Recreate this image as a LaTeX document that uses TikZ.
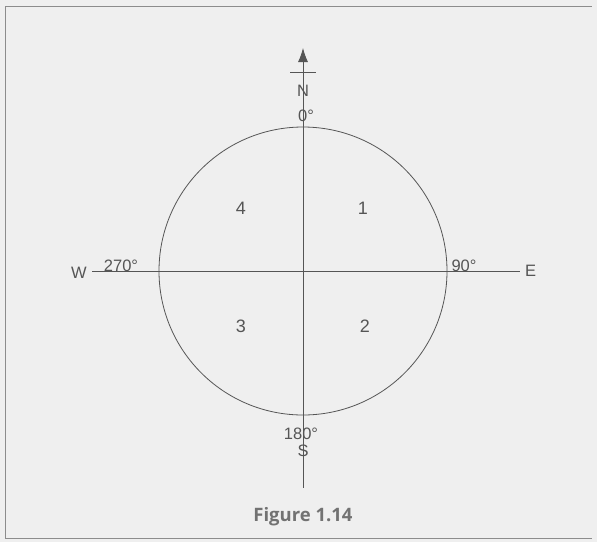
\documentclass[tikz,border=0pt]{standalone}
\usepackage{fontspec}
\setmainfont{Liberation Sans}
\newfontfamily\captionfont{Open Sans}
\usetikzlibrary{arrows.meta,positioning,calc}
\definecolor{pagegray}{HTML}{EFEFEF}
\definecolor{inkgray}{HTML}{555555}
\definecolor{captiongray}{HTML}{727272}
\tikzset{
  compassline/.style={
    line width=0.8pt,
    draw=inkgray
  },
  compassarrow/.style={
    {Latex[length=14pt,width=10pt]}-,
    line width=0.8pt,
    draw=inkgray
  },
  compasslabel/.style={
    text=inkgray,
    inner sep=1pt,
    font=\fontsize{16.5}{16.5}\selectfont
  },
  quadlabel/.style={
    text=inkgray,
    inner sep=1pt,
    font=\fontsize{18}{18}\selectfont
  },
  framerule/.style={
    line width=1pt,
    draw=black!45
  }
}

\begin{document}
\begin{tikzpicture}[x=1pt,y=-1pt]
  \fill[pagegray] (0,0) rectangle (597,542);
  \useasboundingbox (0,0) rectangle (597,542);
  \draw[framerule] (5,538) -- (5,6) -- (592,6);
  \draw[framerule] (5,538) -- (592,538);

  \coordinate (centre) at (303,271);
  \coordinate (northtip) at (303,48);
  \coordinate (southend) at (303,488);
  \coordinate (westend) at (92,271);
  \coordinate (eastend) at (520,271);

  \draw[compassline] (centre) circle (144);
  \draw[compassarrow] (northtip) -- (southend);
  \draw[compassline] (westend) -- (eastend);
  \draw[compassline] ($(northtip)+(-13,24)$) -- ($(northtip)+(13,24)$);

  \node[compasslabel] (north) at (303,91) {N};
  \node[compasslabel] (zero) at (306,116) {0°};
  \node[compasslabel] (south) at (303,451) {S};
  \node[compasslabel] (oneeighty) at (301,434) {180°};
  \node[compasslabel,anchor=east] (west) at (88,273) {W};
  \node[compasslabel] (twoseventy) at (121,266) {270°};
  \node[compasslabel,anchor=west] (east) at (524,271) {E};
  \node[compasslabel] (ninety) at (464,266) {90°};

  \node[quadlabel] (q1) at (363,208) {1};
  \node[quadlabel] (q2) at (365,326) {2};
  \node[quadlabel] (q3) at (241,326) {3};
  \node[quadlabel] (q4) at (241,208) {4};

  \node[text=captiongray,font=\captionfont\bfseries\fontsize{18.5}{18.5}\selectfont]
    (caption) at (303,517) {Figure 1.14};
\end{tikzpicture}
\end{document}
